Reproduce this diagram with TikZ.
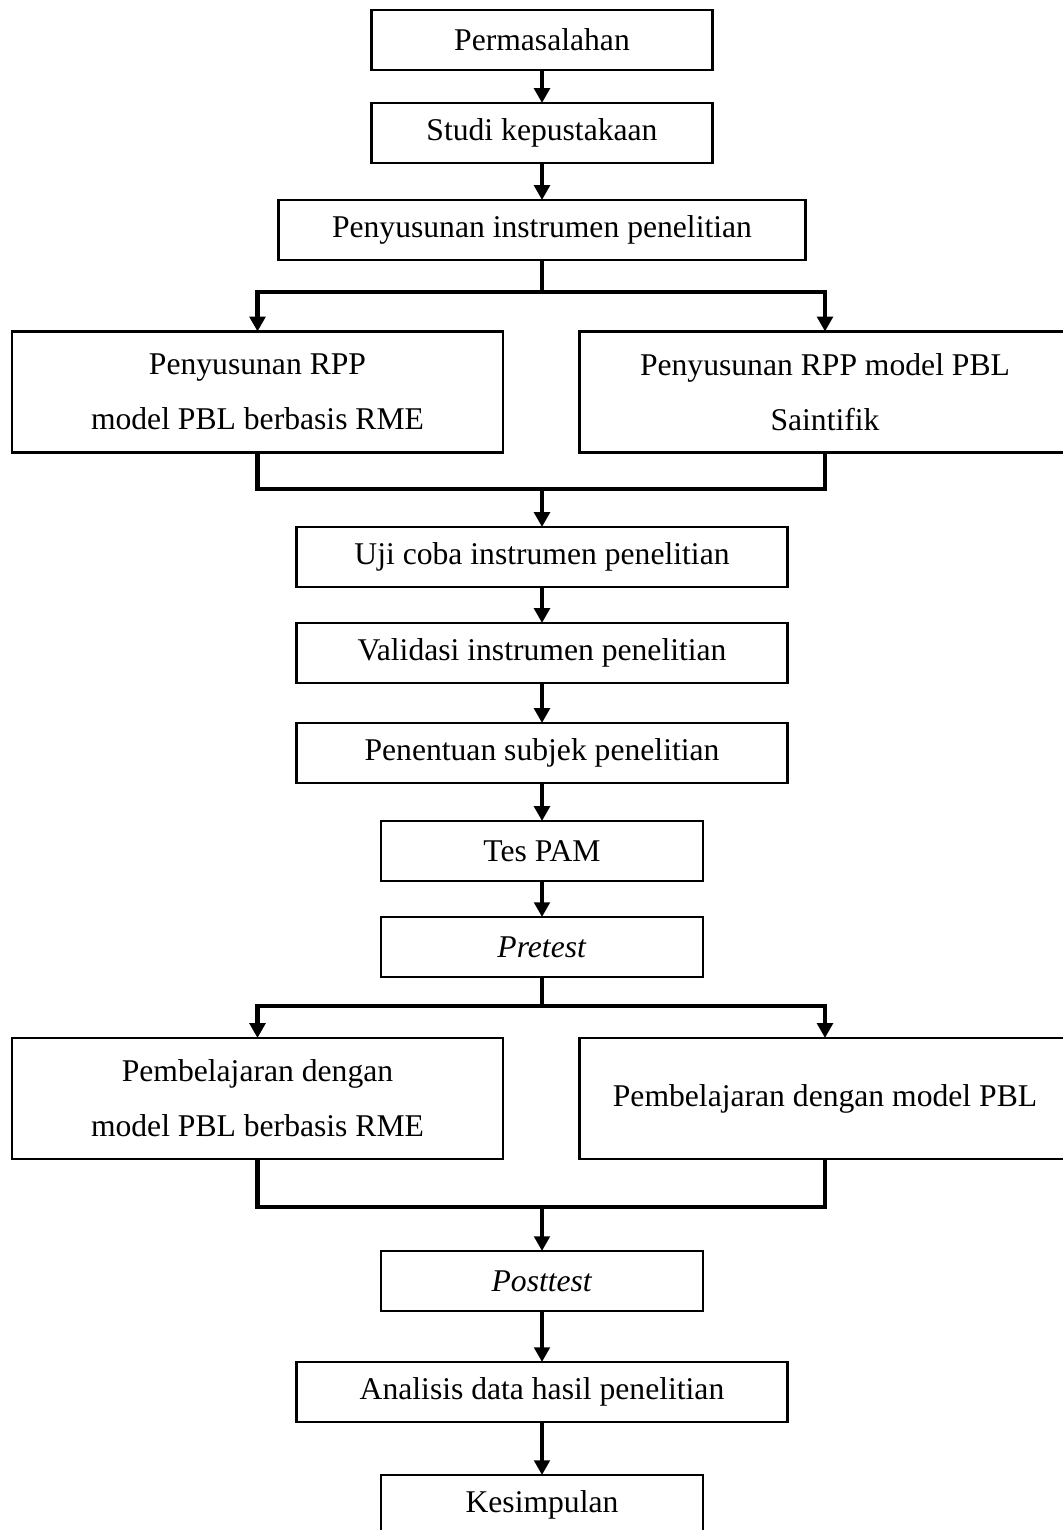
\documentclass[tikz,border=0pt]{standalone}
\usepackage{fontspec}
\setmainfont{Liberation Serif}
\usepackage{tikz}
\usetikzlibrary{positioning}
\usetikzlibrary{arrows.meta}

\tikzset{
	box/.style = {draw, line width=0.6pt, inner sep=0pt, outer sep=0pt, align=center,
				  minimum width=4.91cm, minimum height=0.6cm},
	bigbox/.style = {box, minimum height=1.21cm},
	flow/.style = {line width=1.3pt, -{Triangle[width=4.4pt,length=4.2pt]}},
	bar/.style = {line width=1.3pt}
}

\begin{document}
\begin{tikzpicture}[font=\fontsize{9}{15.6}\selectfont, node distance=0.35cm]
					\useasboundingbox (0,0) rectangle (10.62,-15.30);
					
					% first column of steps
					\node [box, minimum width=3.41cm] (perm) at (5.42,-0.40) {Permasalahan};
					\node [box, minimum width=3.41cm, below=0.33cm of perm] (studi) {Studi kepustakaan};
					\node [box, minimum width=5.27cm, below=0.37cm of studi] (instr) {Penyusunan instrumen penelitian};
					
					% RPP
					\node [bigbox] (rppA) at (2.575,-3.92) {Penyusunan RPP\\model PBL berbasis RME};
					\node [bigbox] (rppB) at (8.25,-3.92) {Penyusunan RPP model PBL\\Saintifik};
					
					\coordinate [below=0.32cm of instr] (fork1);
					\coordinate (join1) at (5.42,-4.89);
					
					% instrumen, subjek, tes
					\node [box, below=0.38cm of join1] (uji) {Uji coba instrumen penelitian};
					\node [box, below=0.36cm of uji] (valid) {Validasi instrumen penelitian};
					\node [box, below=0.40cm of valid] (subjek) {Penentuan subjek penelitian};
					\node [box, minimum width=3.22cm, below=0.38cm of subjek] (pam) {Tes PAM};
					\node [box, minimum width=3.22cm, below=0.36cm of pam] (pre) {\textit{Pretest}};
					
					% pembelajaran
					\node [bigbox] (pembA) at (2.575,-10.985) {Pembelajaran dengan\\model PBL berbasis RME};
					\node [bigbox] (pembB) at (8.25,-10.985) {Pembelajaran dengan model PBL};
					
					\coordinate [below=0.29cm of pre] (fork2);
					\coordinate (join2) at (5.42,-12.07);
					
					% akhir
					\node [box, minimum width=3.22cm, below=0.44cm of join2] (post) {\textit{Posttest}};
					\node [box, below=0.51cm of post] (anal) {Analisis data hasil penelitian};
					\node [box, minimum width=3.22cm, below=0.53cm of anal] (kes) {Kesimpulan};
					
					% connectors
					\draw [flow] (perm) -- (studi);
					\draw [flow] (studi) -- (instr);
					\draw [bar] (instr) -- (fork1);
					\draw [flow] (fork1) -| (rppA.north);
					\draw [flow] (fork1) -| (rppB.north);
					\draw [bar] (rppA.south) |- (join1);
					\draw [bar] (rppB.south) |- (join1);
					\draw [flow] (join1) -- (uji);
					\draw [flow] (uji) -- (valid);
					\draw [flow] (valid) -- (subjek);
					\draw [flow] (subjek) -- (pam);
					\draw [flow] (pam) -- (pre);
					\draw [bar] (pre) -- (fork2);
					\draw [flow] (fork2) -| (pembA.north);
					\draw [flow] (fork2) -| (pembB.north);
					\draw [bar] (pembA.south) |- (join2);
					\draw [bar] (pembB.south) |- (join2);
					\draw [flow] (join2) -- (post);
					\draw [flow] (post) -- (anal);
					\draw [flow] (anal) -- (kes);
\end{tikzpicture}
\end{document}
